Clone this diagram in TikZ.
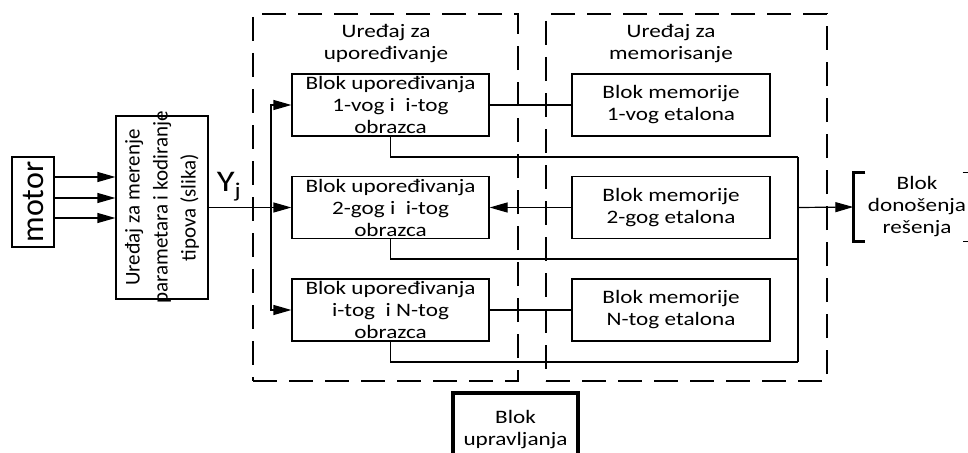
\documentclass[tikz,border=0pt]{standalone}
\usepackage{fontspec}
\setmainfont{Carlito}[FakeStretch=1.22]
\newfontfamily\rotfont{Carlito}
\usetikzlibrary{arrows.meta, positioning, calc}

\begin{document}
\begin{tikzpicture}[
  x=1pt, y=-1pt,
  line width=1.2pt,
  blk/.style={rectangle, draw, line width=1.2pt, inner sep=0pt, align=center, font=\fontsize{19}{22}\selectfont},
  cmpblk/.style={blk, minimum width=197, minimum height=62},
  memblk/.style={blk, minimum width=198, minimum height=62},
  frame/.style={rectangle, draw, line width=1.2pt, dash pattern=on 24pt off 12pt, inner sep=0pt},
  lbl/.style={align=center, font=\fontsize{19}{22}\selectfont},
  arr/.style={-{Triangle[length=18pt, width=10pt]}, line width=1.2pt}
]
\useasboundingbox (0,0) rectangle (968,452);
\clip (0,0) rectangle (968,452);

% -------------------------
% MOTOR AND MEASURING UNIT
% -------------------------
\node[blk, minimum width=42, minimum height=90] (motor) at (33,202) {};
\node[rotate=90, font=\rotfont\fontsize{32}{34}\selectfont] (motortxt) at (motor) {motor};
\node[blk, minimum width=92, minimum height=183] (meas) at (162,207.5) {};
\node[rotate=90, align=center, font=\rotfont\fontsize{21}{28}\selectfont] (meastxt) at (meas) {Uređaj za merenje\\parametara i kodiranje\\tipova (slika)};

\foreach \yy in {177,198,218}
  \draw[arr] (motor.east |- 0,\yy) -- (meas.west |- 0,\yy);

% -------------------------
% COMPARING UNIT
% -------------------------
\node[frame, minimum width=265, minimum height=367] (cmpdev) at (385.5,197.5) {};
\node[lbl] (cmplbl) at (386,44) {Uređaj za\\upoređivanje};
\node[cmpblk] (cmp1) at (390.5,105) {Blok upoređivanja\\1-vog i\ \ i-tog\\obrazca};
\node[cmpblk] (cmp2) at (390.5,207.5) {Blok upoređivanja\\2-gog i\ \ i-tog\\obrazca};
\node[cmpblk] (cmpN) at (390.5,310) {Blok upoređivanja\\i-tog\ \ i N-tog\\obrazca};

% Input bus
\coordinate (bus) at (271,207.5);
\draw[arr] (meas.east) -- (cmp2.west);
\draw[arr] (bus) |- (cmp1.west);
\draw[arr] (bus) |- (cmpN.west);
\node[font=\fontsize{30}{32}\selectfont] (yj) at (229,187) {Y\textsubscript{j}};

% -------------------------
% MEMORY UNIT
% -------------------------
\node[frame, minimum width=281, minimum height=367] (memdev) at (686.5,197.5) {};
\node[lbl] (memlbl) at (671,44) {Uređaj za\\memorisanje};
\node[memblk] (mem1) at (671,105) {Blok memorije\\1-vog etalona};
\node[memblk] (mem2) at (671,207.5) {Blok memorije\\2-gog etalona};
\node[memblk] (memN) at (671,310) {Blok memorije\\N-tog etalona};

\draw (cmp1.east) -- (mem1.west);
\draw[arr] (mem2.west) -- (cmp2.east);
\draw (cmpN.east) -- (memN.west);

% -------------------------
% OUTPUTS TO DECISION BLOCK
% -------------------------
\coordinate (sum1) at (798,157);
\coordinate (sum2) at (798,259);
\coordinate (sumN) at (798,362);
\draw (cmp1.south) |- (sum1);
\draw (cmp2.south) |- (sum2);
\draw (cmpN.south) |- (sumN);
\draw (sum1) -- (sumN);

\node[lbl, minimum height=63, inner xsep=14pt] (dec) at (917,207) {Blok\\donošenja\\rešenja};
\draw[line width=3pt] ([xshift=12pt]dec.north west) -- (dec.north west) -- (dec.south west) -- ([xshift=12pt]dec.south west);
\draw ([xshift=-18pt]dec.north east) -- (dec.north east) -- (dec.south east) -- ([xshift=-18pt]dec.south east);
\draw[arr] (sum1 |- mem2) -- (dec.west);

% -------------------------
% CONTROL BLOCK
% -------------------------
\node[blk, line width=4pt, minimum width=125, minimum height=74] (ctrl) at (515.5,430) {Blok\\upravljanja};

\end{tikzpicture}
\end{document}
